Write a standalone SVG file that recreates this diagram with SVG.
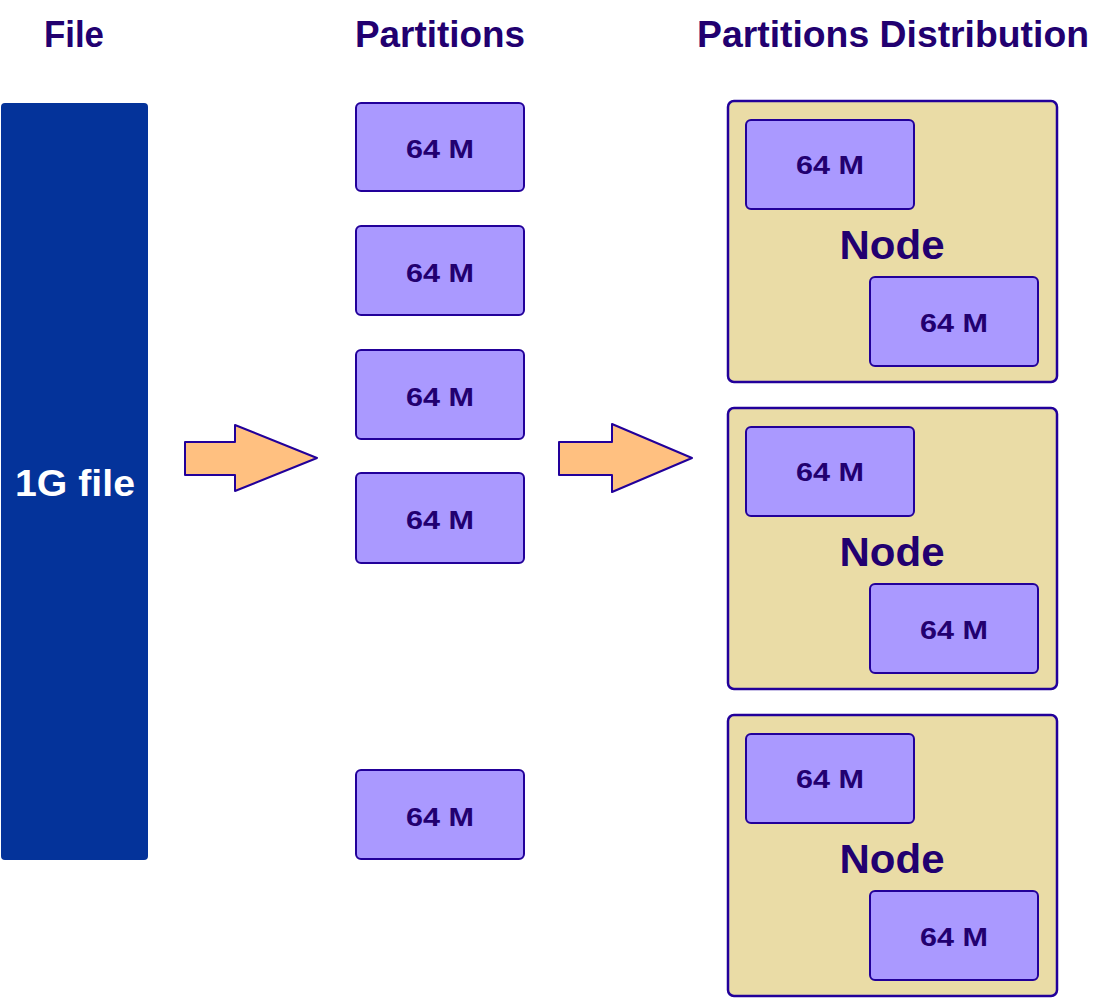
<svg xmlns="http://www.w3.org/2000/svg" width="1095" height="999" viewBox="0 0 1095 999">
<style>
.title{font-family:"Liberation Sans",Arial,sans-serif;font-weight:bold;font-size:37px;fill:#220070}
.part{fill:#AA99FF;stroke:#22009A;stroke-width:2}
.plabel{font-family:"Liberation Sans",Arial,sans-serif;font-weight:bold;font-size:26px;fill:#220070;text-anchor:middle}
.node{fill:#EADCA6;stroke:#22009A;stroke-width:2.5}
.nlabel{font-family:"Liberation Sans",Arial,sans-serif;font-weight:bold;font-size:41px;fill:#220070;text-anchor:middle}
.arrow{fill:#FFC080;stroke:#22009A;stroke-width:2;stroke-linejoin:round}
</style>
<rect width="1095" height="999" fill="#FFFFFF"/>
<g id="titles">
<text class="title" x="44" y="47" textLength="60" lengthAdjust="spacingAndGlyphs">File</text>
<text class="title" x="355" y="47" textLength="170" lengthAdjust="spacingAndGlyphs">Partitions</text>
<text class="title" x="697" y="47" textLength="392" lengthAdjust="spacingAndGlyphs">Partitions Distribution</text>
</g>
<g id="file">
<rect x="1" y="103" width="147" height="757" rx="4" fill="#04339A"/>
<text x="75" y="496" text-anchor="middle" font-family="'Liberation Sans',Arial,sans-serif" font-weight="bold" font-size="37" fill="#FFFFFF" textLength="120" lengthAdjust="spacingAndGlyphs">1G file</text>
</g>
<g id="connectors">
<path class="arrow" d="M185,442 L235,442 L235,425 L317,458 L235,491 L235,475 L185,475 Z"/>
<path class="arrow" d="M559,442 L612,442 L612,424 L692,458 L612,492 L612,475 L559,475 Z"/>
</g>
<g id="partition1"><rect class="part" x="356" y="103" width="168" height="88" rx="5"/><text class="plabel" x="440" y="158" textLength="68" lengthAdjust="spacingAndGlyphs">64 M</text></g>
<g id="partition2"><rect class="part" x="356" y="226" width="168" height="89" rx="5"/><text class="plabel" x="440" y="282" textLength="68" lengthAdjust="spacingAndGlyphs">64 M</text></g>
<g id="partition3"><rect class="part" x="356" y="350" width="168" height="89" rx="5"/><text class="plabel" x="440" y="406" textLength="68" lengthAdjust="spacingAndGlyphs">64 M</text></g>
<g id="partition4"><rect class="part" x="356" y="473" width="168" height="90" rx="5"/><text class="plabel" x="440" y="529" textLength="68" lengthAdjust="spacingAndGlyphs">64 M</text></g>
<g id="partition5"><rect class="part" x="356" y="770" width="168" height="89" rx="5"/><text class="plabel" x="440" y="826" textLength="68" lengthAdjust="spacingAndGlyphs">64 M</text></g>
<g id="node1">
<rect class="node" x="728" y="101" width="329" height="281" rx="6"/>
<rect class="part" x="746" y="120" width="168" height="89" rx="5"/><text class="plabel" x="830" y="174" textLength="68" lengthAdjust="spacingAndGlyphs">64 M</text>
<text class="nlabel" x="892" y="259" textLength="105" lengthAdjust="spacingAndGlyphs">Node</text>
<rect class="part" x="870" y="277" width="168" height="89" rx="5"/><text class="plabel" x="954" y="332" textLength="68" lengthAdjust="spacingAndGlyphs">64 M</text>
</g>
<g id="node2">
<rect class="node" x="728" y="408" width="329" height="281" rx="6"/>
<rect class="part" x="746" y="427" width="168" height="89" rx="5"/><text class="plabel" x="830" y="481" textLength="68" lengthAdjust="spacingAndGlyphs">64 M</text>
<text class="nlabel" x="892" y="566" textLength="105" lengthAdjust="spacingAndGlyphs">Node</text>
<rect class="part" x="870" y="584" width="168" height="89" rx="5"/><text class="plabel" x="954" y="639" textLength="68" lengthAdjust="spacingAndGlyphs">64 M</text>
</g>
<g id="node3">
<rect class="node" x="728" y="715" width="329" height="281" rx="6"/>
<rect class="part" x="746" y="734" width="168" height="89" rx="5"/><text class="plabel" x="830" y="788" textLength="68" lengthAdjust="spacingAndGlyphs">64 M</text>
<text class="nlabel" x="892" y="873" textLength="105" lengthAdjust="spacingAndGlyphs">Node</text>
<rect class="part" x="870" y="891" width="168" height="89" rx="5"/><text class="plabel" x="954" y="946" textLength="68" lengthAdjust="spacingAndGlyphs">64 M</text>
</g>
</svg>
